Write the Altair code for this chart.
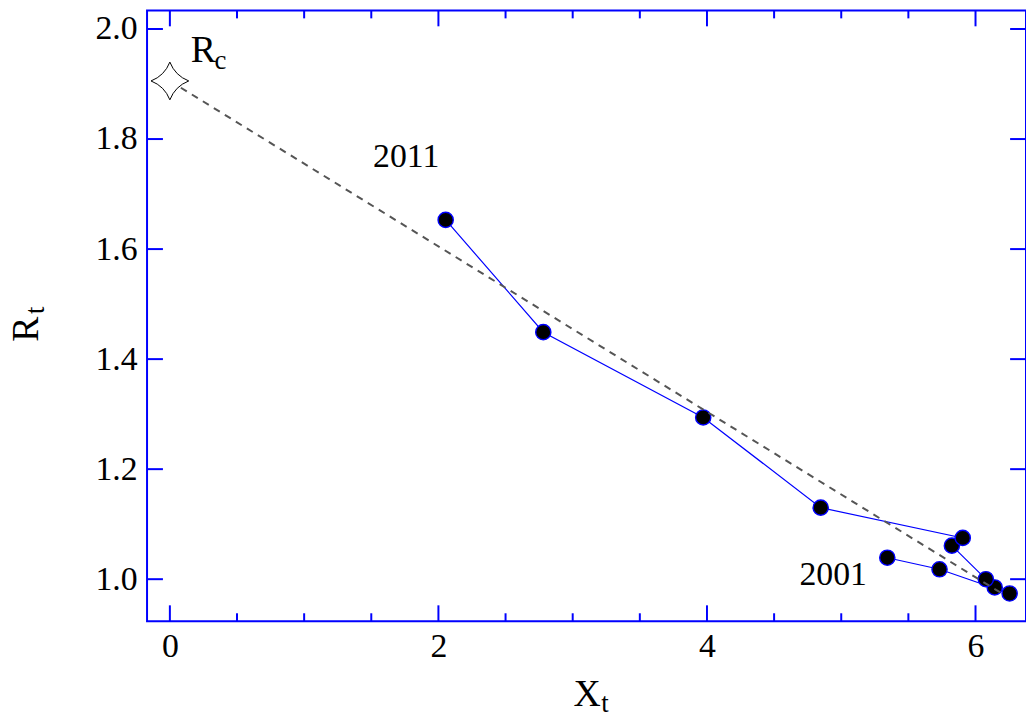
import altair as alt
import pandas as pd

# ---- data ----
years = list(range(2001, 2012))
xt = [5.343, 5.732, 6.254, 6.143, 6.077, 5.824, 5.905, 4.847, 3.972, 2.781, 2.054]
rt = [1.039, 1.018, 0.974, 0.985, 1.000, 1.061, 1.075, 1.130, 1.294, 1.449, 1.653]

rc_x = [0.0]
rc_y = [1.9056]

fit_x = [0.0, 6.21]
fit_y = [1.9056, 0.972]

x_major = [0, 2, 4, 6]
x_minor = [0.5, 1, 1.5, 2.5, 3, 3.5, 4.5, 5, 5.5]
y_major = [1.0, 1.2, 1.4, 1.6, 1.8, 2.0]

year_labels = ["2011", "2001"]
year_label_x = [1.76, 4.94]
year_label_y = [1.7486, 0.9886]

XDOM = [-0.170, 6.376]
YDOM = [0.9236, 2.0338]
W, H = 885, 615
BLUE = "#0000ff"
FONT = "Liberation Serif, Times New Roman, serif"

pts = pd.DataFrame({"year": years, "x": xt, "y": rt})
fit = pd.DataFrame({"x": fit_x, "y": fit_y})
rc = pd.DataFrame({"x": rc_x, "y": rc_y})
lab = pd.DataFrame({"t": year_labels, "x": year_label_x, "y": year_label_y})

xs = alt.Scale(domain=XDOM, nice=False, zero=False)
ys = alt.Scale(domain=YDOM, nice=False, zero=False)

xaxis = alt.Axis(values=x_major, format="d", ticks=False, domain=False, grid=False,
                 title=None, labelFont=FONT, labelFontSize=34, labelColor="black",
                 labelPadding=9, labelFlush=False, labelOverlap=False)
yaxis = alt.Axis(values=y_major, format=".1f", ticks=False, domain=False, grid=False,
                 title=None, labelFont=FONT, labelFontSize=34, labelColor="black",
                 labelPadding=10, labelFlush=False, labelOverlap=False)


def X(f):
    return alt.X(f, scale=xs, axis=xaxis)


def Y(f):
    return alt.Y(f, scale=ys, axis=yaxis)


line = alt.Chart(pts).mark_line(color=BLUE, strokeWidth=1.2).encode(
    x=X("x:Q"), y=Y("y:Q"), order="year:O",
)

points = alt.Chart(pts).mark_point(shape="circle", filled=True, fill="black",
                                   stroke=BLUE, strokeWidth=1.4, size=235, opacity=1).encode(
    x=X("x:Q"), y=Y("y:Q"),
)

dashed = alt.Chart(fit).mark_line(color="#555555", strokeWidth=2, strokeDash=[7, 6]).encode(
    x=X("x:Q"), y=Y("y:Q"),
)

star_path = "M0,-1 Q0.28,-0.28 1,0 Q0.28,0.28 0,1 Q-0.28,0.28 -1,0 Q-0.28,-0.28 0,-1 Z"
star = alt.Chart(rc).mark_point(shape=star_path, filled=True, fill="white", stroke="black",
                                strokeWidth=1, size=1444, opacity=1).encode(
    x=X("x:Q"), y=Y("y:Q"),
)

rc_R = alt.Chart(rc).mark_text(text="R", font=FONT, fontSize=38, align="left",
                               baseline="alphabetic", dx=21, dy=-19, color="black").encode(
    x=X("x:Q"), y=Y("y:Q"))
rc_c = alt.Chart(rc).mark_text(text="c", font=FONT, fontSize=27, align="left",
                               baseline="alphabetic", dx=45, dy=-12, color="black").encode(
    x=X("x:Q"), y=Y("y:Q"))

years_txt = alt.Chart(lab).mark_text(font=FONT, fontSize=34, align="center",
                                     baseline="alphabetic", color="black").encode(
    x=X("x:Q"), y=Y("y:Q"), text="t:N")


# axis titles with subscripts
def title_text(txt, size, px, py, angle=0):
    return alt.Chart(pd.DataFrame({"t": [txt]})).mark_text(
        font=FONT, fontSize=size, align="center", baseline="alphabetic",
        angle=angle, color="black").encode(
        x=alt.value(px), y=alt.value(py), text="t:N")


xt_X = title_text("X", 38, 443, 700)
xt_t = title_text("t", 27, 461, 706)
yt_R = title_text("R", 38, -110, 321, 270)
yt_t = title_text("t", 27, -104, 302, 270)


# inward ticks on all four sides
def tick_rules(vals, orient, length):
    df = pd.DataFrame({"v": vals})
    base = alt.Chart(df).mark_rule(color=BLUE, strokeWidth=2)
    if orient == "bottom":
        return base.encode(x=X("v:Q"), y=alt.value(H), y2=alt.value(H - length))
    if orient == "top":
        return base.encode(x=X("v:Q"), y=alt.value(0), y2=alt.value(length))
    if orient == "left":
        return base.encode(y=Y("v:Q"), x=alt.value(0), x2=alt.value(length))
    return base.encode(y=Y("v:Q"), x=alt.value(W), x2=alt.value(W - length))


ticks = [
    tick_rules(x_major, "bottom", 16), tick_rules(x_minor, "bottom", 8),
    tick_rules(x_major, "top", 16), tick_rules(x_minor, "top", 8),
    tick_rules(y_major, "left", 16), tick_rules(y_major, "right", 16),
]

chart = alt.layer(
    line, *ticks, points, dashed, star, rc_R, rc_c, years_txt, xt_X, xt_t, yt_R, yt_t
).properties(
    width=W, height=H,
    background="white",
    autosize=alt.AutoSizeParams(type="none"),
    padding={"left": 140, "top": 0, "right": 0, "bottom": 94},
).configure_view(stroke=BLUE, strokeWidth=2)

chart.save("out.html", embed_options={"renderer": "svg", "actions": False})
